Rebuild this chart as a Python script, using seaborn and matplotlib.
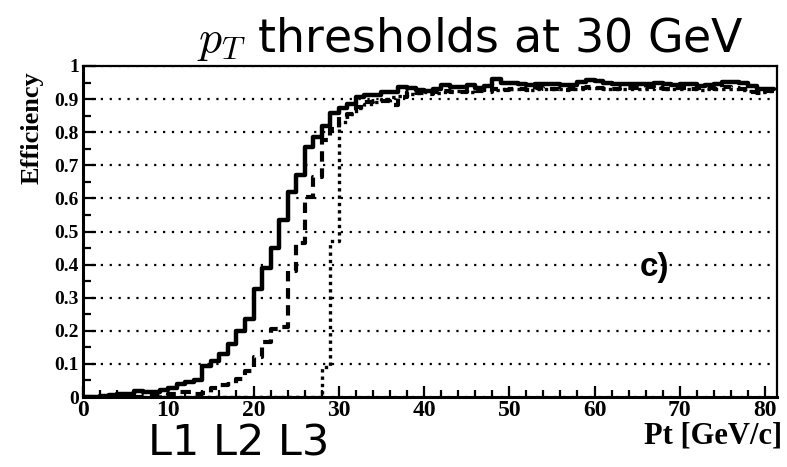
import numpy as np
import pandas as pd
import matplotlib
matplotlib.use("Agg")
import matplotlib.pyplot as plt
from matplotlib.ticker import MultipleLocator
import seaborn as sns

# ---------------- data (bin width 1 GeV/c, bins start at 0) ----------------
bin_edges_start = 0
bin_width = 1
eff_L1 = [0.0, 0.0, 0.003, 0.005, 0.01, 0.01, 0.018, 0.015, 0.015, 0.02,
          0.028, 0.038, 0.045, 0.05, 0.095, 0.11, 0.13, 0.16, 0.2, 0.235,
          0.325, 0.39, 0.45, 0.535, 0.62, 0.67, 0.755, 0.785, 0.82, 0.858,
          0.873, 0.885, 0.905, 0.912, 0.913, 0.92, 0.922, 0.937, 0.935, 0.928,
          0.925, 0.93, 0.943, 0.938, 0.937, 0.943, 0.935, 0.94, 0.96, 0.95,
          0.948, 0.947, 0.943, 0.945, 0.946, 0.945, 0.942, 0.944, 0.952, 0.957,
          0.955, 0.95, 0.946, 0.946, 0.945, 0.945, 0.945, 0.948, 0.946, 0.944,
          0.947, 0.945, 0.94, 0.942, 0.945, 0.953, 0.952, 0.948, 0.94, 0.93,
          0.93]
eff_L2 = [0.0, 0.0, 0.0, 0.0, 0.0, 0.0, 0.0, 0.002, 0.003, 0.005,
          0.008, 0.015, 0.015, 0.01, 0.012, 0.028, 0.035, 0.04, 0.055, 0.08,
          0.12, 0.165, 0.205, 0.21, 0.38, 0.465, 0.605, 0.665, 0.775, 0.81,
          0.845, 0.855, 0.875, 0.89, 0.895, 0.893, 0.882, 0.905, 0.92, 0.918,
          0.915, 0.92, 0.925, 0.922, 0.92, 0.928, 0.925, 0.922, 0.93, 0.928,
          0.932, 0.93, 0.928, 0.935, 0.93, 0.932, 0.928, 0.93, 0.935, 0.938,
          0.935, 0.932, 0.93, 0.935, 0.933, 0.935, 0.938, 0.935, 0.932, 0.934,
          0.935, 0.93, 0.933, 0.935, 0.932, 0.938, 0.935, 0.93, 0.922, 0.918,
          0.925]
eff_L3 = [0.0, 0.0, 0.0, 0.0, 0.0, 0.0, 0.0, 0.0, 0.0, 0.0,
          0.0, 0.0, 0.0, 0.0, 0.0, 0.0, 0.0, 0.0, 0.0, 0.0,
          0.0, 0.0, 0.0, 0.0, 0.0, 0.0, 0.0, 0.0, 0.09, 0.47,
          0.83, 0.855, 0.872, 0.885, 0.89, 0.9, 0.905, 0.91, 0.915, 0.918,
          0.92, 0.918, 0.922, 0.925, 0.925, 0.922, 0.928, 0.93, 0.928, 0.93,
          0.932, 0.93, 0.928, 0.93, 0.932, 0.93, 0.93, 0.932, 0.93, 0.935,
          0.933, 0.93, 0.932, 0.93, 0.932, 0.93, 0.932, 0.933, 0.93, 0.93,
          0.932, 0.93, 0.928, 0.93, 0.932, 0.93, 0.93, 0.928, 0.925, 0.922,
          0.925]

title_text = r"$p_T$ thresholds at 30 GeV"
ylabel_text = "Efficiency"
xlabel_text = "Pt [GeV/c]"
panel_text = "c)"
levels_text = "L1 L2 L3"
ytick_labels = ["0", "0.1", "0.2", "0.3", "0.4", "0.5", "0.6", "0.7", "0.8", "0.9", "1"]

# ---------------- style ----------------
sns.set_theme(style="white")
plt.rcParams["font.family"] = ["DejaVu Sans"]
plt.rcParams["mathtext.fontset"] = "cm"
plt.rcParams["text.color"] = "black"
plt.rcParams["xtick.color"] = "black"
plt.rcParams["ytick.color"] = "black"
plt.rcParams["axes.labelcolor"] = "black"

fig = plt.figure(figsize=(7.87, 4.67), dpi=100)
ax = fig.add_axes([83 / 787, 1 - 397 / 467, (777 - 83) / 787, (397 - 66) / 467])


def step_frame(vals):
    n = len(vals)
    x = bin_edges_start + bin_width * np.arange(n + 1)
    y = list(vals) + [vals[-1]]
    return pd.DataFrame({"pt": x, "eff": y})


sns.lineplot(data=step_frame(eff_L3), x="pt", y="eff", ax=ax, color="black",
             lw=2.4, linestyle=(0, (1.0, 1.2)), drawstyle="steps-post",
             estimator=None, sort=False)
sns.lineplot(data=step_frame(eff_L2), x="pt", y="eff", ax=ax, color="black",
             lw=3.0, linestyle=(0, (2.5, 1.6)), drawstyle="steps-post",
             estimator=None, sort=False)
sns.lineplot(data=step_frame(eff_L1), x="pt", y="eff", ax=ax, color="black",
             lw=3.2, linestyle="-", drawstyle="steps-post",
             estimator=None, sort=False)

ax.set_xlim(0, 81.4)
ax.set_ylim(0, 1)
ax.set_xlabel("")
ax.set_ylabel("")

ax.xaxis.set_major_locator(MultipleLocator(10))
ax.xaxis.set_minor_locator(MultipleLocator(2))
ax.yaxis.set_minor_locator(MultipleLocator(0.05))
ax.set_yticks(np.round(np.arange(0, 1.01, 0.1), 1))
ax.set_yticklabels(ytick_labels)

ax.tick_params(axis="both", which="both", direction="in", color="black",
               labelcolor="black", bottom=True, left=True, top=False, right=False)
ax.tick_params(axis="y", which="major", length=9, width=1.6, pad=3)
ax.tick_params(axis="y", which="minor", length=6, width=1.6)
ax.tick_params(axis="x", which="major", length=8, width=1.6, pad=2)
ax.tick_params(axis="x", which="minor", length=5, width=1.6)

for lab in ax.get_yticklabels():
    lab.set_fontfamily("Liberation Serif")
    lab.set_fontweight("bold")
    lab.set_fontsize(14)
for lab in ax.get_xticklabels():
    lab.set_fontfamily("Liberation Serif")
    lab.set_fontweight("bold")
    lab.set_fontsize(17)

ax.yaxis.grid(True, which="major", color="black", linestyle=(0, (1, 3)), lw=1.6)
ax.xaxis.grid(False)
ax.set_axisbelow(True)

for side in ["left", "bottom"]:
    ax.spines[side].set_linewidth(2.2)
for side in ["top", "right"]:
    ax.spines[side].set_linewidth(1.6)
for s in ax.spines.values():
    s.set_color("black")

fig.text(32 / 787, 1 - 128 / 467, ylabel_text, rotation=90, ha="center", va="center",
         fontfamily="Liberation Serif", fontweight="bold", fontsize=19, color="black")
fig.text(782 / 787, 1 - 443 / 467, xlabel_text, ha="right", va="baseline",
         fontfamily="Liberation Serif", fontweight="bold", fontsize=22, color="black")
ax.text(67, 0.39, panel_text, ha="center", va="center", fontfamily="Liberation Sans",
        fontweight="bold", fontsize=24, color="black")
fig.text(470 / 787, 1 - 52 / 467, title_text, ha="center", va="baseline",
         fontfamily="DejaVu Sans", fontsize=33, color="black")
fig.text(148 / 787, 1 - 456 / 467, levels_text, ha="left", va="baseline",
         fontfamily="DejaVu Sans", fontsize=31, color="black")

fig.savefig("out.png", dpi=100)
